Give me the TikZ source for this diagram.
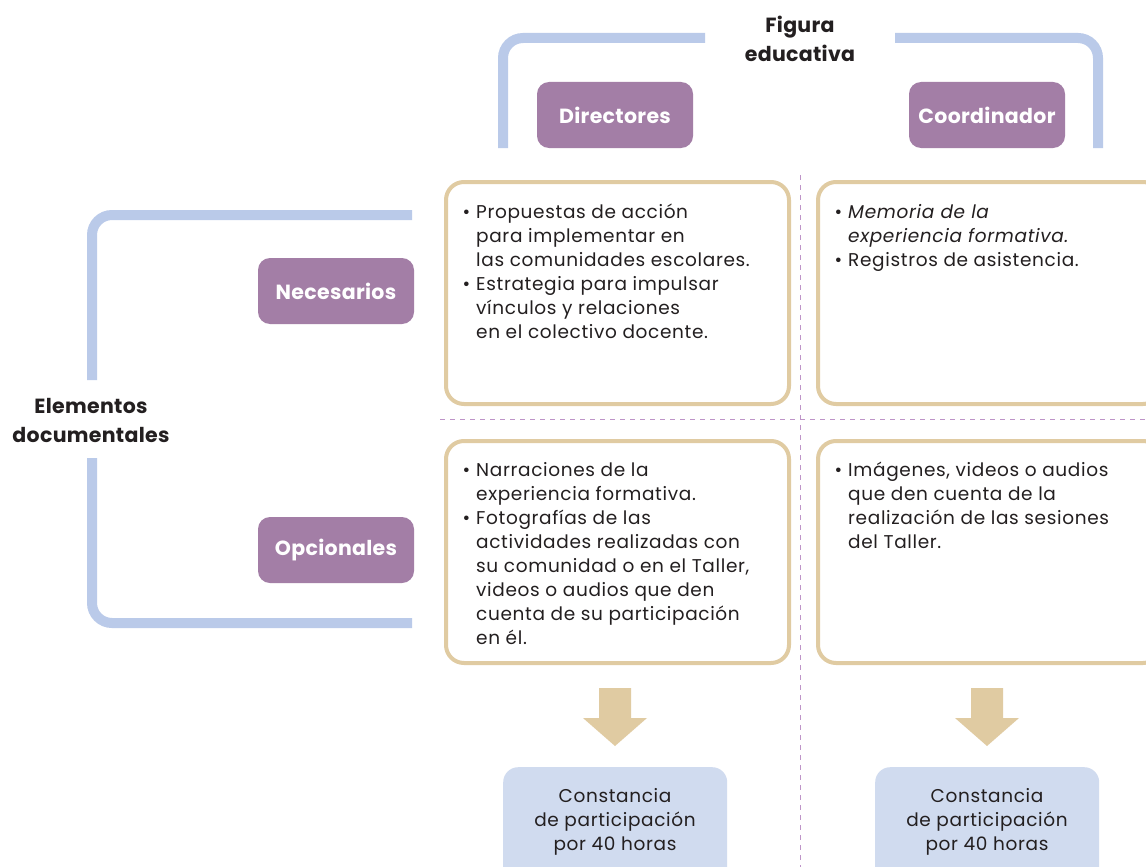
\documentclass[tikz,border=0pt]{standalone}
\usepackage{fontspec}
\setmainfont[LetterSpace=3.5, BoldFeatures={LetterSpace=1.5}]{Poppins}
\definecolor{purp}{HTML}{A37EA6}
\definecolor{brk}{HTML}{BACAE9}
\definecolor{tanc}{HTML}{E0CBA2}
\definecolor{lblue}{HTML}{D0DBEF}
\definecolor{ink}{HTML}{231F20}
\definecolor{dashc}{HTML}{BE94C8}
\begin{document}
\begin{tikzpicture}[x=1pt,y=-1pt,
  tag/.style={fill=purp, rounded corners=12pt, text=white,
    font=\fontsize{20.5}{23}\selectfont\bfseries,
    minimum width=156pt, minimum height=66pt, inner sep=0pt},
  card/.style={draw=tanc, line width=4pt, fill=white, rounded corners=18pt,
    minimum width=343pt, minimum height=222pt, inner sep=0pt, anchor=north west},
  body/.style={text=ink, font=\fontsize{18.5}{24}\selectfont, align=left,
    inner sep=0pt, anchor=north west},
  head/.style={text=ink, font=\fontsize{20.5}{29}\selectfont\bfseries, align=center,
    inner sep=0pt},
  cert/.style={fill=lblue, rounded corners=15pt, minimum width=224pt,
    minimum height=130pt, inner sep=0pt, anchor=north west},
  certtext/.style={text=ink, font=\fontsize{18.5}{24}\selectfont, align=center, inner sep=0pt},
  bracket/.style={draw=brk, line width=10pt, rounded corners=20pt},
  sep/.style={draw=dashc, line width=1pt, dash pattern=on 5pt off 5pt},
  blockarrow/.style={fill=tanc}
]
\useasboundingbox (0,0) rectangle (1146,867);
\fill[white] (0,0) rectangle (1146,867);

% separators
\coordinate (vtop) at (800,175);
\coordinate (vbot) at (800,867);
\coordinate (hl) at (440,419);
\coordinate (hr) at (1146,419);
\draw[sep] (vtop) -- (vbot);
\draw[sep] (hl) -- (hr);

% top bracket
\node[head] (fig) at (800,39) {Figura\\educativa};
\coordinate (tl1) at (503,148);
\coordinate (tl2) at (705,38);
\coordinate (tr2) at (895,38);
\coordinate (tr1) at (1098,148);
\draw[bracket] (tl1) -- (503,38) -- (tl2);
\draw[bracket] (tr2) -- (1098,38) -- (tr1);

% left bracket
\node[head] (elem) at (91,420) {Elementos\\documentales};
\coordinate (lb1) at (412,215);
\coordinate (lb2) at (412,623);
\draw[bracket] (lb1) -- (92,215) -- (92,380);
\draw[bracket] (92,458) -- (92,623) -- (lb2);

% tags
\node[tag] (dir) at (615,115) {Directores};
\node[tag] (coo) at (987,115) {Coordinador};
\node[tag] (nec) at (336,291) {Necesarios};
\node[tag] (opc) at (336,550) {Opcionales};

% cards
\node[card] (c1) at (444,180) {};
\node[card] (c2) at (816,180) {};
\node[card] (c3) at (444,439) {};
\node[card] (c4) at (816,439) {};

\newcommand{\bul}{\llap{\textbullet\hspace{6pt}}}
\node[body] (t1) at (476,201.2) {\strut\bul Propuestas de acción\\para implementar en\\las comunidades escolares.\\\bul Estrategia para impulsar\\vínculos y relaciones\\en el colectivo docente.};
\node[body] (t2) at (848,201.2) {\strut\bul \textit{Memoria de la}\\\textit{experiencia formativa.}\\\bul Registros de asistencia.};
\node[body] (t3) at (476,459.2) {\strut\bul Narraciones de la\\experiencia formativa.\\\bul Fotografías de las\\actividades realizadas con\\su comunidad o en el Taller,\\videos o audios que den\\cuenta de su participación\\en él.};
\node[body] (t4) at (848,459.2) {\strut\bul Imágenes, videos o audios\\que den cuenta de la\\realización de las sesiones\\del Taller.};

% block arrows
\foreach \n/\cx in {a1/615, a2/987}{
  \coordinate (\n) at (\cx,688);
  \fill[blockarrow] (\n) ++(-16,0) -- ++(32,0) -- ++(0,30) -- ++(16,0)
    -- ++(-32,28) -- ++(-32,-28) -- ++(16,0) -- cycle;
}

% certificates
\node[cert] (k1) at (503,767) {};
\node[cert] (k2) at (875,767) {};
\node[certtext] (kt1) at (615,822) {Constancia\\de participación\\por 40 horas};
\node[certtext] (kt2) at (987,822) {Constancia\\de participación\\por 40 horas};
\end{tikzpicture}
\end{document}
